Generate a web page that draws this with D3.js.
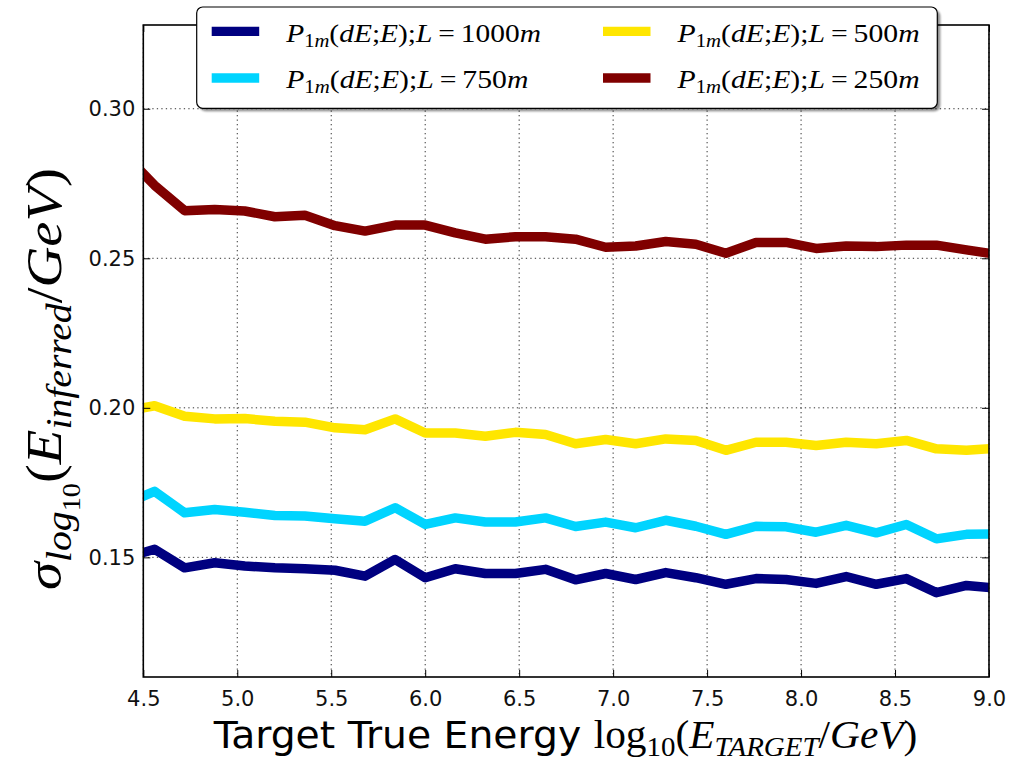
<!DOCTYPE html>
<html><head><meta charset="utf-8">
<script src="https://cdn.jsdelivr.net/npm/d3@7"></script>
<style>body{margin:0;background:#fff}</style>
</head><body>
<svg id="chart" width="1023" height="762"></svg>
<script>
// Energy bin centres, log10(E/GeV)
const energies = [4.40,4.56,4.72,4.88,5.04,5.20,5.36,5.52,5.68,5.84,6.00,6.16,6.32,6.48,6.64,
                  6.80,6.96,7.12,7.28,7.44,7.60,7.76,7.92,8.08,8.24,8.40,8.56,8.72,8.88,9.04];
// Resolution sigma of log10(E_inferred) per track length
const sigma1000 = [0.1498,0.1527,0.1465,0.1482,0.1471,0.1465,0.1462,0.1457,0.1437,0.1493,0.1432,0.1462,0.1446,0.1446,0.1460,
                   0.1425,0.1446,0.1426,0.1449,0.1432,0.1410,0.1429,0.1426,0.1413,0.1436,0.1410,0.1429,0.1382,0.1406,0.1397];
const sigma750  = [0.1678,0.1721,0.1649,0.1660,0.1651,0.1640,0.1638,0.1629,0.1621,0.1666,0.1610,0.1632,0.1618,0.1618,0.1632,
                   0.1603,0.1618,0.1599,0.1624,0.1604,0.1577,0.1604,0.1602,0.1584,0.1607,0.1582,0.1610,0.1562,0.1577,0.1578];
const sigma500  = [0.1988,0.2007,0.1972,0.1963,0.1964,0.1955,0.1952,0.1933,0.1927,0.1963,0.1916,0.1916,0.1905,0.1918,0.1911,
                   0.1880,0.1894,0.1880,0.1896,0.1891,0.1858,0.1885,0.1885,0.1874,0.1885,0.1880,0.1891,0.1863,0.1858,0.1865];
const sigma250  = [0.2848,0.2744,0.2659,0.2663,0.2658,0.2639,0.2644,0.2609,0.2591,0.2611,0.2611,0.2585,0.2564,0.2572,0.2572,
                   0.2564,0.2537,0.2541,0.2556,0.2547,0.2517,0.2553,0.2553,0.2533,0.2541,0.2539,0.2544,0.2544,0.2528,0.2513];
const lengths = ["1000", "750", "500", "250"];
const colors = ["#000080", "#00d4ff", "#ffe600", "#800000"];
const xTicks = [4.5,5.0,5.5,6.0,6.5,7.0,7.5,8.0,8.5,9.0];
const yTicks = [0.15,0.20,0.25,0.30];

const series = [sigma1000, sigma750, sigma500, sigma250];

const W = 1023, H = 762;
const L = 143.3, R = 989, T = 25, B = 677;
const svg = d3.select('#chart');
svg.append('rect').attr('width', W).attr('height', H).attr('fill', '#fff');

const x = d3.scaleLinear().domain([4.5, 9.0]).range([L, R]);
const y = d3.scaleLinear().domain([0.110, 0.328]).range([B, T]);

// clip region for the plot area
const defs = svg.append('defs');
defs.append('clipPath').attr('id', 'plotclip')
  .append('rect').attr('x', L).attr('y', T).attr('width', R - L).attr('height', B - T);
defs.append('filter').attr('id', 'soft').append('feGaussianBlur').attr('stdDeviation', 1.2);

// dotted grid
const grid = svg.append('g').attr('stroke', '#333').attr('stroke-width', 1).attr('stroke-dasharray', '1.3,3.2');
grid.selectAll('.gx').data(xTicks).join('line')
  .attr('x1', d => x(d)).attr('x2', d => x(d)).attr('y1', T).attr('y2', B);
grid.selectAll('.gy').data(yTicks).join('line')
  .attr('x1', L).attr('x2', R).attr('y1', d => y(d)).attr('y2', d => y(d));

// data lines
const line = d3.line().x((d, i) => x(energies[i])).y(d => y(d));
svg.append('g').attr('clip-path', 'url(#plotclip)')
  .selectAll('path').data(series).join('path')
  .attr('d', d => line(d))
  .attr('fill', 'none')
  .attr('stroke', (d, i) => colors[i])
  .attr('stroke-width', 9.5)
  .attr('stroke-linejoin', 'round');

// axes with inward ticks
const tickFont = 'DejaVu Sans';
const axB = svg.append('g').attr('transform', `translate(0,${B})`)
  .call(d3.axisBottom(x).tickValues(xTicks).tickFormat(d3.format('.1f')).tickSizeInner(-7).tickSizeOuter(0).tickPadding(14));
const axL = svg.append('g').attr('transform', `translate(${L},0)`)
  .call(d3.axisLeft(y).tickValues(yTicks).tickFormat(d3.format('.2f')).tickSizeInner(-7).tickSizeOuter(0).tickPadding(8));
const axT = svg.append('g').attr('transform', `translate(0,${T})`)
  .call(d3.axisTop(x).tickValues(xTicks).tickFormat('').tickSizeInner(-7).tickSizeOuter(0));
const axR = svg.append('g').attr('transform', `translate(${R},0)`)
  .call(d3.axisRight(y).tickValues(yTicks).tickFormat('').tickSizeInner(-7).tickSizeOuter(0));
[axB, axL, axT, axR].forEach(a => {
  a.select('.domain').remove();
  a.selectAll('line').attr('stroke', '#000').attr('stroke-width', 1);
  a.selectAll('text').attr('font-family', tickFont).attr('font-size', 21).attr('fill', '#111');
});

// frame
svg.append('rect').attr('x', L).attr('y', T).attr('width', R - L).attr('height', B - T)
  .attr('fill', 'none').attr('stroke', '#000').attr('stroke-width', 1.6);

// math-style text helper: segments with italic flag and sub level
function mathText(sel, segs, size) {
  let prev = 0;
  segs.forEach(s => {
    const lvl = s.l || 0;
    const fs = size * [1, 0.7, 0.5][lvl];
    const shift = [0, 0.2, 0.38][lvl] * size;
    sel.append('tspan')
      .attr('dy', shift - prev)
      .attr('font-size', fs)
      .attr('font-family', 'Liberation Serif')
      .attr('font-style', s.i ? 'italic' : 'normal')
      .text(s.t);
    prev = shift;
  });
}

// stretch a text horizontally (in its own frame) around anchor ax to a given width
function fitWidth(sel, ax, width) {
  const bb = sel.node().getBBox();
  const s = width / bb.width;
  sel.attr('transform', `translate(${ax},0) scale(${s},1) translate(${-ax},0)`);
}

// x axis label
const xl = svg.append('text').attr('x', 565.5).attr('y', 748).attr('text-anchor', 'middle').attr('fill', '#000');
xl.append('tspan').attr('font-family', 'DejaVu Sans').attr('font-size', 38).text('Target True Energy ');
mathText(xl, [
  {t: 'log'}, {t: '10', l: 1}, {t: '('}, {t: 'E', i: 1}, {t: 'TARGET', i: 1, l: 1},
  {t: '/'}, {t: 'GeV', i: 1}, {t: ')'}
], 40);
fitWidth(xl, 565.5, 705);

// y axis label
const ylg = svg.append('g').attr('transform', 'translate(61,379) rotate(-90)');
const yl = ylg.append('text').attr('x', 0).attr('y', 0).attr('text-anchor', 'middle').attr('fill', '#000');
mathText(yl, [
  {t: 'σ', i: 1}, {t: 'log', i: 1, l: 1}, {t: '10', l: 2}, {t: '('}, {t: 'E', i: 1},
  {t: 'inferred', i: 1, l: 1}, {t: '/'}, {t: 'GeV', i: 1}, {t: ')'}
], 51);
fitWidth(yl, 0, 422);

// legend
const lg = svg.append('g');
const lx = 196.7, ly = 7, lw = 740.6, lh = 101.3;
lg.append('rect').attr('x', lx + 3).attr('y', ly + 3).attr('width', lw).attr('height', lh).attr('rx', 6)
  .attr('fill', '#000').attr('opacity', 0.45).attr('filter', 'url(#soft)');
lg.append('rect').attr('x', lx).attr('y', ly).attr('width', lw).attr('height', lh).attr('rx', 6)
  .attr('fill', '#fff').attr('stroke', '#000').attr('stroke-width', 1.2);
const legendPos = [[211.7, 31.3], [211.7, 78], [603, 31.3], [603, 78]];
lengths.forEach((len, i) => {
  const [px, py] = legendPos[i];
  lg.append('line').attr('x1', px).attr('x2', px + 47.5).attr('y1', py).attr('y2', py)
    .attr('stroke', colors[i]).attr('stroke-width', 9.3);
  const tx = px + 74.5;
  const t = lg.append('text').attr('x', tx).attr('y', py + 10.4).attr('fill', '#000');
  mathText(t, [
    {t: 'P', i: 1}, {t: '1', l: 1}, {t: 'm', i: 1, l: 1}, {t: '('}, {t: 'dE', i: 1}, {t: ';'},
    {t: 'E', i: 1}, {t: ');'}, {t: 'L', i: 1}, {t: '\u2009=\u2009'}, {t: len}, {t: 'm', i: 1}
  ], 25.5);
  fitWidth(t, tx, len.length === 4 ? 256 : 243.4);
});
</script>
</body></html>
